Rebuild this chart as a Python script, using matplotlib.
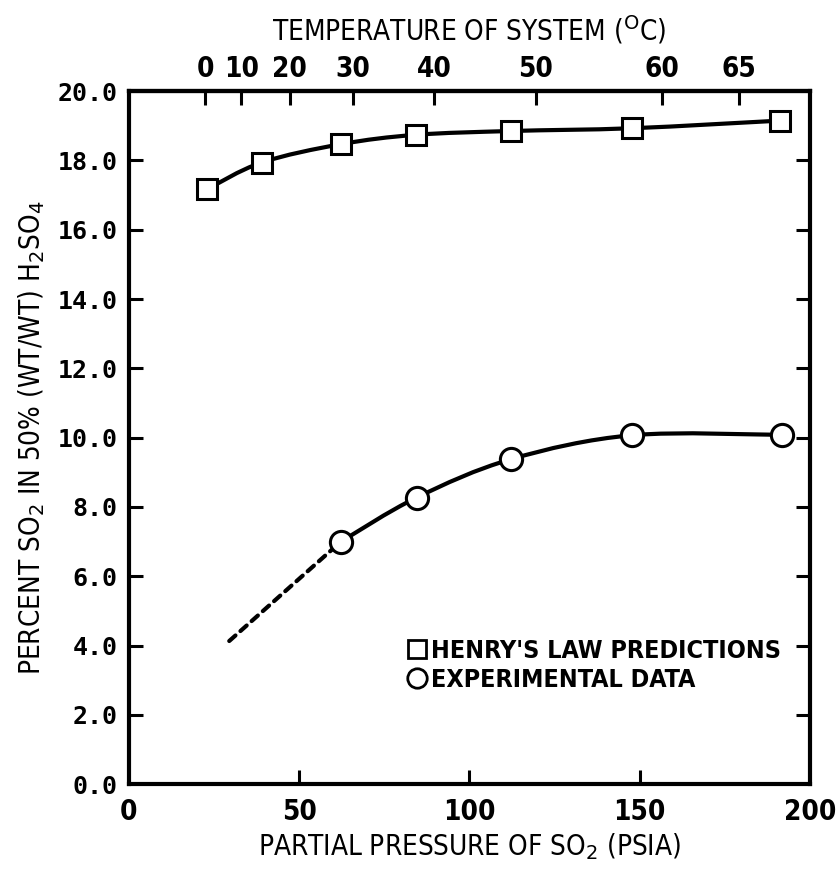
import numpy as np
import matplotlib
matplotlib.use("Agg")
import matplotlib.pyplot as plt
from matplotlib.path import Path
from matplotlib.patches import PathPatch
from matplotlib.lines import Line2D
from matplotlib import font_manager as fm

# ---- data ----
henry_x = [23.0, 39.0, 62.3, 84.3, 112.2, 147.8, 191.2]
henry_y = [17.17, 17.94, 18.47, 18.74, 18.85, 18.93, 19.15]
exp_x = [62.3, 84.5, 112.3, 147.8, 191.8]
exp_y = [7.0, 8.27, 9.38, 10.07, 10.08]
extrap_x = [29.5, 62.3]
extrap_y = [4.13, 7.0]
temp_pos = [22.4, 33.0, 47.3, 65.9, 89.6, 119.4, 156.5, 179.1]
temp_labels = ["0", "10", "20", "30", "40", "50", "60", "65"]
xticks = [0, 50, 100, 150, 200]
yticks = [0, 2, 4, 6, 8, 10, 12, 14, 16, 18, 20]
ytick_labels = ["%.1f" % v for v in yticks]

# pick a condensed face if one is installed
entries = [(f.name, f.stretch) for f in fm.fontManager.ttflist]
COND_FAMILY, COND_STRETCH = "Roboto", "normal"
for nm, st in entries:
    if nm == "DejaVu Sans" and st in ("condensed", "semi-condensed"):
        COND_FAMILY, COND_STRETCH = "DejaVu Sans", st
        break
else:
    for nm, st in entries:
        if "Narrow" in nm or "Condensed" in nm:
            COND_FAMILY, COND_STRETCH = nm, st
            break

COND = [COND_FAMILY, "DejaVu Sans"]
MONO = ["DejaVu Sans Mono", "DejaVu Sans"]


def smooth_path(x, y):
    pts = np.column_stack([x, y]).astype(float)
    n = len(pts)
    verts = [pts[0]]
    codes = [Path.MOVETO]
    for i in range(n - 1):
        p0 = pts[i - 1] if i > 0 else pts[i]
        p1 = pts[i]
        p2 = pts[i + 1]
        p3 = pts[i + 2] if i + 2 < n else pts[i + 1]
        verts += [p1 + (p2 - p0) / 6.0, p2 - (p3 - p1) / 6.0, p2]
        codes += [Path.CURVE4] * 3
    return Path(verts, codes)


fig = plt.figure(figsize=(8.36, 8.85), dpi=100)
ax = fig.add_axes([0.154, 0.114, 0.815, 0.783])
ax.set_xlim(0, 200)
ax.set_ylim(0, 20)

lw = 3.0
ax.add_patch(PathPatch(smooth_path(henry_x, henry_y), fill=False, lw=lw,
                       edgecolor="black", transform=ax.transData, zorder=2,
                       capstyle="round"))
ax.add_patch(PathPatch(smooth_path(exp_x, exp_y), fill=False, lw=lw,
                       edgecolor="black", transform=ax.transData, zorder=2,
                       capstyle="round"))
ax.plot(extrap_x, extrap_y, color="black", lw=lw, ls=(0, (2.0, 1.6)),
        dash_capstyle="round", zorder=2)

ax.plot(henry_x, henry_y, ls="none", marker="s", ms=15, mfc="white",
        mec="black", mew=2.2, zorder=3)
ax.plot(exp_x, exp_y, ls="none", marker="o", ms=16, mfc="white",
        mec="black", mew=2.2, zorder=3)

for s in ax.spines.values():
    s.set_linewidth(3.0)

tick_font = dict(family=COND, fontsize=20, fontweight="bold",
                 fontstretch=COND_STRETCH)
label_font = dict(family=COND, fontsize=20, fontstretch=COND_STRETCH)

ax.set_xticks(xticks)
ax.set_xticklabels([str(v) for v in xticks], **tick_font)
ax.set_yticks(yticks)
ax.set_yticklabels(ytick_labels, family=MONO, fontsize=18, fontweight="bold")
ax.tick_params(axis="both", direction="in", length=10, width=2.2,
               right=True, top=False, pad=8)
ax.tick_params(axis="x", pad=10)
for t in ax.xaxis.get_major_ticks():
    if t.get_loc() in (0, 200):
        t.tick1line.set_visible(False)
for t in ax.yaxis.get_major_ticks():
    if t.get_loc() in (0, 20):
        t.tick1line.set_visible(False)
        t.tick2line.set_visible(False)

ax.set_xlabel("PARTIAL PRESSURE OF SO$_2$ (PSIA)", labelpad=4, **label_font)
ax.set_ylabel("PERCENT SO$_2$ IN 50% (WT/WT) H$_2$SO$_4$", labelpad=8,
              **label_font)

top = ax.secondary_xaxis("top")
top.set_xticks(temp_pos)
top.set_xticklabels(temp_labels, **tick_font)
top.tick_params(direction="in", length=10, width=2.2, pad=6)
top.spines["top"].set_linewidth(3.0)
top.set_xlabel("TEMPERATURE OF SYSTEM ($^{\\mathrm{O}}$C)", labelpad=10,
               **label_font)

handles = [
    Line2D([], [], ls="none", marker="s", ms=13, mfc="white", mec="black",
           mew=2.0),
    Line2D([], [], ls="none", marker="o", ms=14, mfc="white", mec="black",
           mew=2.0),
]
ax.legend(handles, ["HENRY'S LAW PREDICTIONS", "EXPERIMENTAL DATA"],
          loc="upper left", bbox_to_anchor=(0.388, 0.228), frameon=False,
          prop={"family": COND, "size": 18, "weight": "bold",
                "stretch": COND_STRETCH},
          handletextpad=0.1, handlelength=0.9, labelspacing=0.2,
          borderpad=0.0)

fig.savefig("out.png", dpi=100)
